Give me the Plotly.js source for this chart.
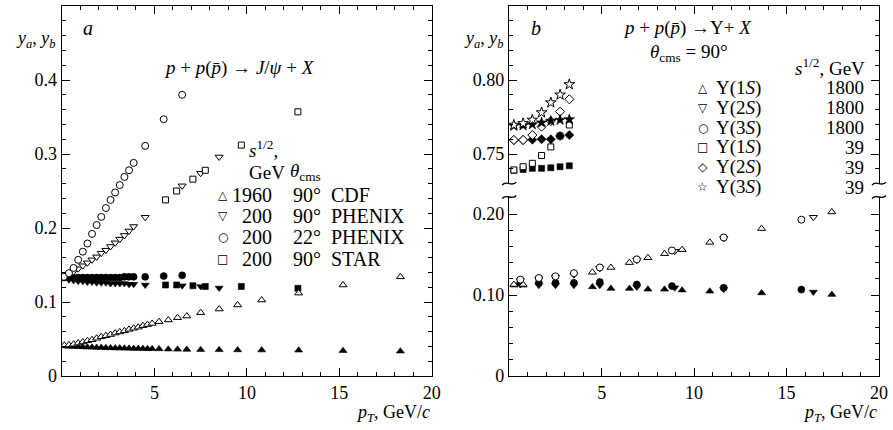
<!DOCTYPE html>
<html><head><meta charset="utf-8">
<script src="https://cdn.plot.ly/plotly-3.0.1.min.js"></script>
<style>html,body{margin:0;padding:0;background:#fff}</style>
</head><body>
<div id="chart" style="width:893px;height:430px"></div>
<script>
// ---------- Panel a: J/psi ----------
const cdf_pt = [0.125,0.375,0.625,0.875,1.125,1.375,1.625,1.875,2.125,2.375,2.625,2.875,3.125,3.375,3.625,3.875,4.125,4.375,4.625,4.875,5.25,5.75,6.25,6.75,7.5,8.5,9.5,10.8,12.8,15.2,18.3];
const cdf_ya = [0.0415,0.042,0.043,0.0445,0.046,0.0475,0.049,0.051,0.053,0.0545,0.056,0.058,0.0595,0.061,0.063,0.0645,0.066,0.068,0.0695,0.071,0.0734,0.0757,0.0788,0.081,0.0856,0.0905,0.096,0.1027,0.112,0.123,0.134];
const cdf_yb = [0.0405,0.040,0.0398,0.0395,0.0393,0.039,0.0388,0.0386,0.0384,0.0382,0.038,0.0378,0.0377,0.0375,0.0374,0.0372,0.0371,0.037,0.0368,0.0367,0.0366,0.0362,0.036,0.0358,0.0356,0.0354,0.0352,0.035,0.0348,0.0342,0.0335];

const phx90_pt = [0.375,0.625,0.875,1.125,1.375,1.625,1.875,2.125,2.375,2.625,2.875,3.125,3.375,3.625,3.875,4.5,6.5,7.5,8.5];
const phx90_ya = [0.137,0.141,0.145,0.149,0.153,0.157,0.161,0.166,0.170,0.175,0.180,0.185,0.190,0.196,0.202,0.2145,0.257,0.274,0.296];
const phx90_yb = [0.130,0.129,0.128,0.128,0.127,0.127,0.126,0.126,0.126,0.125,0.125,0.125,0.125,0.124,0.124,0.123,0.122,0.121,0.119];

const phx22_pt = [0.1,0.375,0.625,0.875,1.125,1.375,1.625,1.875,2.125,2.375,2.625,2.875,3.125,3.375,3.625,3.875,4.5,5.5,6.5];
const phx22_ya = [0.134,0.139,0.146,0.157,0.168,0.179,0.192,0.204,0.215,0.227,0.238,0.248,0.258,0.269,0.278,0.288,0.311,0.347,0.380];
const phx22_yb = [0.133,0.133,0.133,0.133,0.133,0.133,0.133,0.133,0.133,0.133,0.133,0.133,0.133,0.134,0.134,0.134,0.134,0.135,0.136];

const star_pt = [5.6,6.2,7.08,7.75,9.7,12.76];
const star_ya = [0.238,0.250,0.266,0.278,0.312,0.357];
const star_yb = [0.123,0.123,0.122,0.121,0.121,0.1185];

// ---------- Panel b: Upsilon ----------
const u1_1800_pt = [0.25,0.75,4.5,5.5,6.5,7.5,8.4,9.35,10.85,13.65,17.45];
const u1_1800_ya = [0.113,0.113,0.128,0.134,0.140,0.146,0.151,0.156,0.165,0.182,0.2025];
const u1_1800_yb = [0.112,0.112,0.110,0.108,0.108,0.107,0.107,0.106,0.1046,0.1025,0.1005];

const u2_1800_pt = [0.6,1.6,2.5,3.5,4.9,6.9,8.95,11.6,16.45];
const u2_1800_ya = [0.118,0.120,0.122,0.125,0.133,0.143,0.154,0.170,0.196];
const u2_1800_yb = [0.113,0.112,0.112,0.112,0.112,0.110,0.109,0.107,0.1037];

const u3_1800_pt = [0.6,1.6,2.5,3.5,4.9,6.9,8.8,11.6,15.8];
const u3_1800_ya = [0.119,0.121,0.123,0.127,0.134,0.144,0.155,0.171,0.193];
const u3_1800_yb = [0.115,0.115,0.115,0.115,0.116,0.113,0.111,0.109,0.1067];

const u_39_pt = [0.25,0.75,1.25,1.75,2.25,2.75,3.25];
const u1_39_ya = [0.7392,0.7414,0.7437,0.7490,0.7548,0.7622,0.7696];
const u1_39_yb = [0.7390,0.7395,0.7403,0.7403,0.7407,0.7414,0.7420];
const u2_39_ya = [0.7595,0.7595,0.7628,0.7685,0.7723,0.7786,0.7870];
const u2_39_yb = [0.7593,0.7594,0.7597,0.7600,0.7600,0.7622,0.7628];
const u3_39_ya = [0.7696,0.7707,0.7730,0.7780,0.7847,0.7900,0.7970];
const u3_39_yb = [0.7690,0.7693,0.7700,0.7712,0.7723,0.7730,0.7734];

// tick labels and legend texts
const xTickVals = [5,10,15,20];
const yaTickVals = [0,0.1,0.2,0.3,0.4,0.5];
const yaTickText = ['0','0.1','0.2','0.3','0.4','0.5'];
const ybLoVals = [0,0.1,0.2];
const ybLoText = ['0','0.10','0.20'];
const ybHiVals = [0.75,0.8,0.85];
const ybHiText = ['0.75','0.80','0.85'];
const legA_sym = ['\u25B3','\u25BD','\u25CB','\u25A1'];
const legA_E = ['1960','200','200','200'];
const legA_ang = ['90\u00B0','90\u00B0','22\u00B0','90\u00B0'];
const legA_exp = ['CDF','PHENIX','PHENIX','STAR'];
const legB_sym = ['\u25B3','\u25BD','\u25CB','\u25A1','\u25C7','\u2606'];
const legB_state = ['\u03A5(1<i>S</i>)','\u03A5(2<i>S</i>)','\u03A5(3<i>S</i>)','\u03A5(1<i>S</i>)','\u03A5(2<i>S</i>)','\u03A5(3<i>S</i>)'];
const legB_E = ['1800','1800','1800','39','39','39'];

// ---------- geometry helpers ----------
const L=62, R=879.5, T=6, B=376;
const W=R-L, H=B-T;
const px = x => (x-L)/W;
const py = y => (B-y)/H;
const FONT = 'Liberation Serif';

function tr(x,y,xa,ya,sym,open,size){
  return {x:x,y:y,xaxis:xa,yaxis:ya,type:'scatter',mode:'markers',showlegend:false,hoverinfo:'skip',
    marker:{symbol:sym,size:size,color:open?'white':'black',line:{color:'black',width:open?1:0.6}}};
}
const data = [
  tr(cdf_pt,cdf_yb,'x','y','triangle-up',false,7),
  tr(phx90_pt,phx90_yb,'x','y','triangle-down',false,7),
  tr(phx22_pt,phx22_yb,'x','y','circle',false,7),
  tr(star_pt,star_yb,'x','y','square',false,6),
  tr(cdf_pt,cdf_ya,'x','y','triangle-up',true,7),
  tr(phx90_pt,phx90_ya,'x','y','triangle-down',true,7),
  tr(phx22_pt,phx22_ya,'x','y','circle',true,7),
  tr(star_pt,star_ya,'x','y','square',true,6),
  tr(u1_1800_pt,u1_1800_yb,'x2','y3','triangle-up',false,7),
  tr(u2_1800_pt,u2_1800_yb,'x2','y3','triangle-down',false,7),
  tr(u3_1800_pt,u3_1800_yb,'x2','y3','circle',false,7),
  tr(u1_1800_pt,u1_1800_ya,'x2','y3','triangle-up',true,7),
  tr(u2_1800_pt,u2_1800_ya,'x2','y3','triangle-down',true,7),
  tr(u3_1800_pt,u3_1800_ya,'x2','y3','circle',true,7),
  tr(u_39_pt,u1_39_yb,'x3','y4','square',false,6),
  tr(u_39_pt,u1_39_ya,'x3','y4','square',true,6),
  tr(u_39_pt,u2_39_yb,'x3','y4','diamond',false,7),
  tr(u_39_pt,u2_39_ya,'x3','y4','diamond',true,7),
  tr(u_39_pt,u3_39_yb,'x3','y4','star',false,8),
  tr(u_39_pt,u3_39_ya,'x3','y4','star',true,8)
];

function xax(dom,anchor,extra){
  return Object.assign({domain:dom,anchor:anchor,range:[0,20],tickmode:'array',tickvals:xTickVals,
    ticks:'inside',ticklen:8,tickwidth:1,tickcolor:'black',showline:true,linecolor:'black',linewidth:1.4,
    showgrid:false,zeroline:false,tickfont:{family:FONT,size:18,color:'black'},fixedrange:true,
    minor:{tickmode:'linear',tick0:0,dtick:1,ticks:'inside',ticklen:4,tickwidth:1,tickcolor:'black',showgrid:false}},extra||{});
}
function yax(dom,anchor,range,vals,texts,mdt,extra){
  return Object.assign({domain:dom,anchor:anchor,range:range,tickmode:'array',tickvals:vals,ticktext:texts,
    ticks:'inside',ticklen:8,tickwidth:1,tickcolor:'black',showline:true,linecolor:'black',linewidth:1.4,
    mirror:'allticks',showgrid:false,zeroline:false,tickfont:{family:FONT,size:18,color:'black'},fixedrange:true,
    minor:{tickmode:'linear',tick0:0,dtick:mdt,ticks:'inside',ticklen:4,tickwidth:1,tickcolor:'black',showgrid:false}},extra||{});
}
const dA=[0,(432-L)/W], dB=[(509.5-L)/W,1];
const layout = {
  width:893,height:430,margin:{l:L,r:893-R,t:T,b:430-B},
  paper_bgcolor:'white',plot_bgcolor:'white',showlegend:false,
  font:{family:FONT,color:'black',size:18},
  xaxis:xax(dA,'y',{mirror:'allticks'}),
  yaxis:yax([0,1],'x',[0,0.5],yaTickVals,yaTickText,0.02),
  xaxis2:xax(dB,'y3'),
  xaxis3:xax(dB,'y4',{side:'top',showticklabels:false}),
  yaxis3:yax([0,(B-197)/H],'x2',[0,0.221],ybLoVals,ybLoText,0.02),
  yaxis4:yax([(B-183.6)/H,1],'x3',[0.73,0.85],ybHiVals,ybHiText,0.01),
  annotations:[],shapes:[]
};
function A(text,x,y,xa,ya,size,fam){
  layout.annotations.push({text:text,xref:'paper',yref:'paper',x:px(x),y:py(y),xanchor:xa,yanchor:ya,
    showarrow:false,font:{family:fam||FONT,size:size,color:'black'}});
}
// panel a texts
A('<i>a</i>',88,28,'center','middle',20);
A('<i>y<sub>a</sub></i>, <i>y<sub>b</sub></i>',58,40,'right','middle',18);
A('<i>p<sub>T</sub></i>, GeV/<i>c</i>',432,413,'right','middle',18);
A('<i>p</i> + <i>p</i>(<i>p\u0304</i>) \u2192 <i>J</i>/<i>\u03C8</i> + <i>X</i>',240,68,'center','middle',19);
A('<i>s</i><sup>1/2</sup>,',247,149,'left','middle',19);
A('GeV',247,172,'left','middle',19);
A('<i>\u03B8</i><sub>cms</sub>',288,172,'left','middle',19);
const rowsA=[195,216,237,259];
for(let i=0;i<4;i++){
  A(legA_sym[i],223,rowsA[i],'center','middle',12,'DejaVu Sans');
  A(legA_E[i],274,rowsA[i],'right','middle',20);
  A(legA_ang[i],291,rowsA[i],'left','middle',20);
  A(legA_exp[i],329,rowsA[i],'left','middle',20);
}
// panel b texts
A('<i>b</i>',536,28,'center','middle',20);
A('<i>y<sub>a</sub></i>, <i>y<sub>b</sub></i>',506,40,'right','middle',18);
A('<i>p<sub>T</sub></i>, GeV/<i>c</i>',880,413,'right','middle',18);
A('<i>p</i> + <i>p</i>(<i>p\u0304</i>) \u2192\u03A5+ <i>X</i>',688,28,'center','middle',19);
A('<i>\u03B8</i><sub>cms</sub> = 90\u00B0',689,53,'center','middle',19);
A('<i>s</i><sup>1/2</sup>, GeV',867,67,'right','middle',19);
const rowsB=[88,108,128,147,167,187];
for(let i=0;i<6;i++){
  A(legB_sym[i],703,rowsB[i],'center','middle',12,'DejaVu Sans');
  A(legB_state[i],714,rowsB[i],'left','middle',19);
  A(legB_E[i],866,rowsB[i],'right','middle',19);
}
// axis break marks
function brk(x,y){
  const p=(a,b)=>px(a).toFixed(5)+','+py(b).toFixed(5);
  layout.shapes.push({type:'path',xref:'paper',yref:'paper',
    path:'M'+p(x-7,y+1.5)+' C'+p(x-3,y-4)+' '+p(x+3,y+4)+' '+p(x+7,y-1.5),
    line:{color:'black',width:1.3}});
}
brk(509.5,183.6); brk(509.5,197); brk(879.5,183.6); brk(879.5,197);

Plotly.newPlot('chart',data,layout,{displayModeBar:false,staticPlot:true});
</script>
</body></html>
